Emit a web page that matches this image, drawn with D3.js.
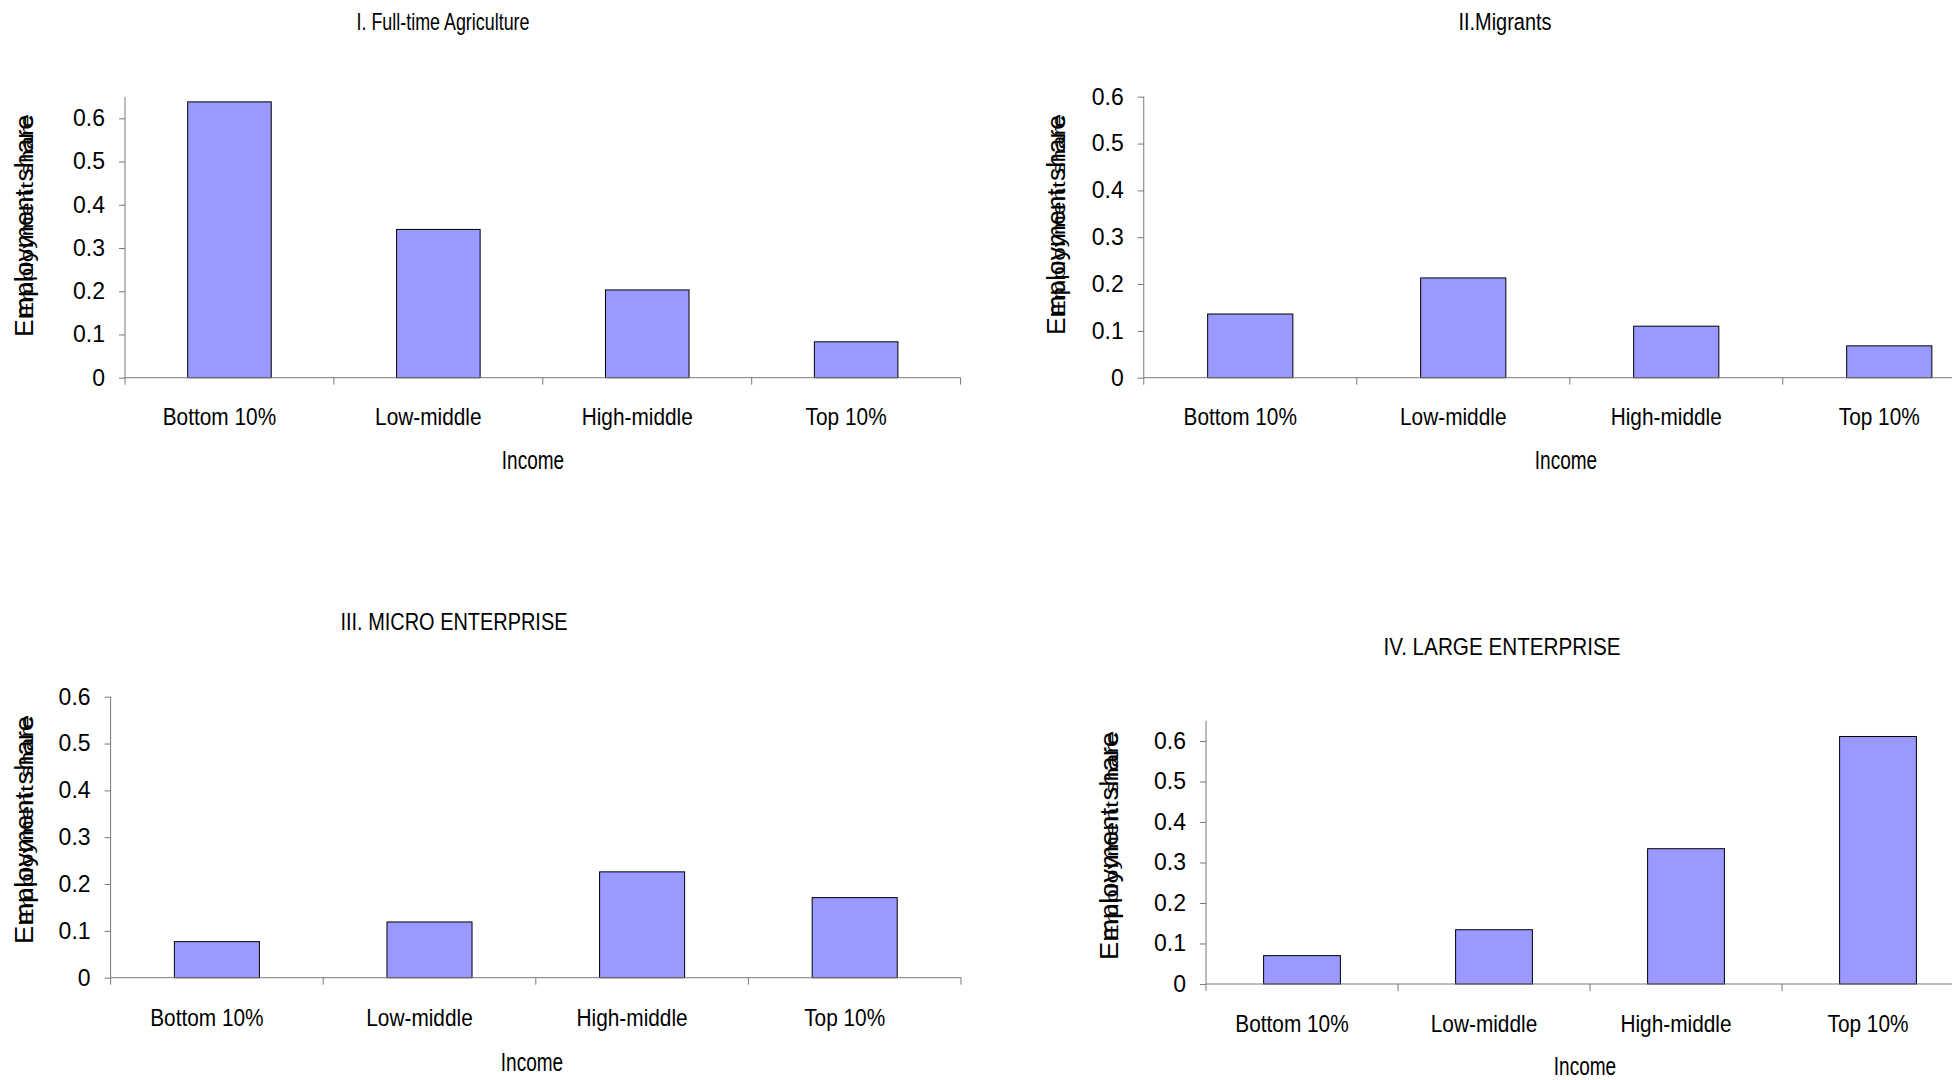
<!DOCTYPE html>
<html>
<head>
<meta charset="utf-8">
<script src="https://cdn.jsdelivr.net/npm/d3@7"></script>
<style>
  html, body { margin: 0; padding: 0; background: #fff; }
  svg { display: block; }
  text { font-family: "Liberation Sans", Arial, sans-serif; fill: #000; }
</style>
</head>
<body>
<svg id="chart" width="1952" height="1080"></svg>
<script>
// Income groups shared by all four panels
const categories = ["Bottom 10%", "Low-middle", "High-middle", "Top 10%"];

// Employment share by income group, one series per panel
const fullTimeAgriculture = [0.638, 0.343, 0.203, 0.083];
const migrants            = [0.136, 0.213, 0.110, 0.068];
const microEnterprise     = [0.077, 0.119, 0.226, 0.171];
const largeEnterprise     = [0.070, 0.134, 0.334, 0.611];

const panelTitles = [
  "I. Full-time Agriculture",
  "II.Migrants",
  "III. MICRO ENTERPRISE",
  "IV. LARGE ENTERPRISE"
];
const yTickValues = [0, 0.1, 0.2, 0.3, 0.4, 0.5, 0.6];
const yTickLabels = ["0", "0.1", "0.2", "0.3", "0.4", "0.5", "0.6"];
const xAxisTitle = "Income";
const yAxisTitle = "Employment share";

const series = [fullTimeAgriculture, migrants, microEnterprise, largeEnterprise];

// Placement of each panel on the page
const layout = [
  { left: 125,    right: 960.6,   zero: 377.7, top: 96.7,  yMax: 0.65,
    titleX: 443,  titleY: 30,  titleW: 173,
    yTitleX: 33,  yTitleY: 226, yTitleLen: 222,
    labelY: 424.5, incomeX: 533, incomeY: 469 },
  { left: 1143.75, right: 1995.75, zero: 377.7, top: 96.7, yMax: 0.6,
    titleX: 1505, titleY: 30,  titleW: 93,
    yTitleX: 1065, yTitleY: 225, yTitleLen: 220,
    labelY: 424.5, incomeX: 1566, incomeY: 469 },
  { left: 110.6,  right: 961,     zero: 977.7, top: 696.7, yMax: 0.6,
    titleX: 454,  titleY: 630, titleW: 227,
    yTitleX: 33,  yTitleY: 830, yTitleLen: 228,
    labelY: 1026, incomeX: 532, incomeY: 1071 },
  { left: 1206,   right: 1974,    zero: 984,   top: 720.7, yMax: 0.65,
    titleX: 1502, titleY: 655, titleW: 237,
    yTitleX: 1118, yTitleY: 846, yTitleLen: 228,
    labelY: 1032, incomeX: 1585, incomeY: 1075 }
];

const svg = d3.select("#chart");
const AXIS = "#787878";
const BAR_FILL = "#9999ff";

// Squeeze a text element to a fraction of its natural width
function condense(sel, factor) {
  sel.each(function () {
    const w = this.getComputedTextLength();
    d3.select(this).attr("textLength", w * factor).attr("lengthAdjust", "spacingAndGlyphs");
  });
}

layout.forEach((L, p) => {
  const values = series[p];
  const g = svg.append("g");

  const x = d3.scaleBand()
    .domain(categories)
    .range([L.left, L.right])
    .paddingInner(0.6)
    .paddingOuter(0.3);

  const y = d3.scaleLinear()
    .domain([0, L.yMax])
    .range([L.zero, L.top]);

  // Bars
  g.selectAll("rect.bar")
    .data(values)
    .join("rect")
    .attr("class", "bar")
    .attr("x", (d, i) => x(categories[i]))
    .attr("y", d => y(d))
    .attr("width", x.bandwidth())
    .attr("height", d => y(0) - y(d))
    .attr("fill", BAR_FILL)
    .attr("stroke", "#000")
    .attr("stroke-width", 1);

  // Value axis
  const yAxis = d3.axisLeft(y)
    .tickValues(yTickValues)
    .tickFormat((d, i) => yTickLabels[i])
    .tickSize(6)
    .tickPadding(14);
  const ya = g.append("g")
    .attr("transform", `translate(${L.left},0)`)
    .call(yAxis);
  ya.select(".domain").attr("stroke", AXIS).attr("d", `M0,${L.top}V${L.zero}`);
  ya.selectAll(".tick line").attr("stroke", AXIS);
  ya.selectAll(".tick text")
    .style("font-family", "'Liberation Sans', Arial, sans-serif")
    .style("font-size", "23px")
    .attr("fill", "#000");

  // Category axis: baseline plus tick marks between groups
  const step = x.step();
  g.append("line")
    .attr("x1", L.left).attr("x2", L.right)
    .attr("y1", y(0)).attr("y2", y(0))
    .attr("stroke", AXIS).attr("stroke-width", 1);
  g.selectAll("line.cat-tick")
    .data(d3.range(categories.length + 1))
    .join("line")
    .attr("class", "cat-tick")
    .attr("x1", i => L.left + i * step).attr("x2", i => L.left + i * step)
    .attr("y1", y(0)).attr("y2", y(0) + 7)
    .attr("stroke", AXIS).attr("stroke-width", 1);

  // Category labels
  const labels = g.selectAll("text.cat")
    .data(categories)
    .join("text")
    .attr("class", "cat")
    .attr("x", d => x(d) + x.bandwidth() / 2 - 10)
    .attr("y", L.labelY)
    .attr("text-anchor", "middle")
    .style("font-size", "24.5px")
    .text(d => d);
  condense(labels, 0.85);

  // Axis title under the categories
  const inc = g.append("text")
    .attr("x", L.incomeX)
    .attr("y", L.incomeY)
    .attr("text-anchor", "middle")
    .style("font-size", "25px")
    .text(xAxisTitle);
  condense(inc, 0.76);

  // Panel title
  g.append("text")
    .attr("x", L.titleX)
    .attr("y", L.titleY)
    .attr("text-anchor", "middle")
    .style("font-size", "24.5px")
    .attr("textLength", L.titleW)
    .attr("lengthAdjust", "spacingAndGlyphs")
    .text(panelTitles[p]);

  // Vertical axis title, printed twice on top of itself: a large copy and a
  // smaller, slightly shorter copy that starts a letter further along
  const yTitles = [
    { fs: 25, len: L.yTitleLen,      shift: 0 },
    { fs: 18, len: L.yTitleLen - 18, shift: 10 }
  ];
  yTitles.forEach(t => {
    g.append("text")
      .attr("transform", `translate(${L.yTitleX},${L.yTitleY - t.shift}) rotate(-90)`)
      .attr("text-anchor", "middle")
      .style("font-size", t.fs + "px")
      .attr("textLength", t.len)
      .attr("lengthAdjust", "spacingAndGlyphs")
      .text(yAxisTitle);
  });
});
</script>
</body>
</html>
